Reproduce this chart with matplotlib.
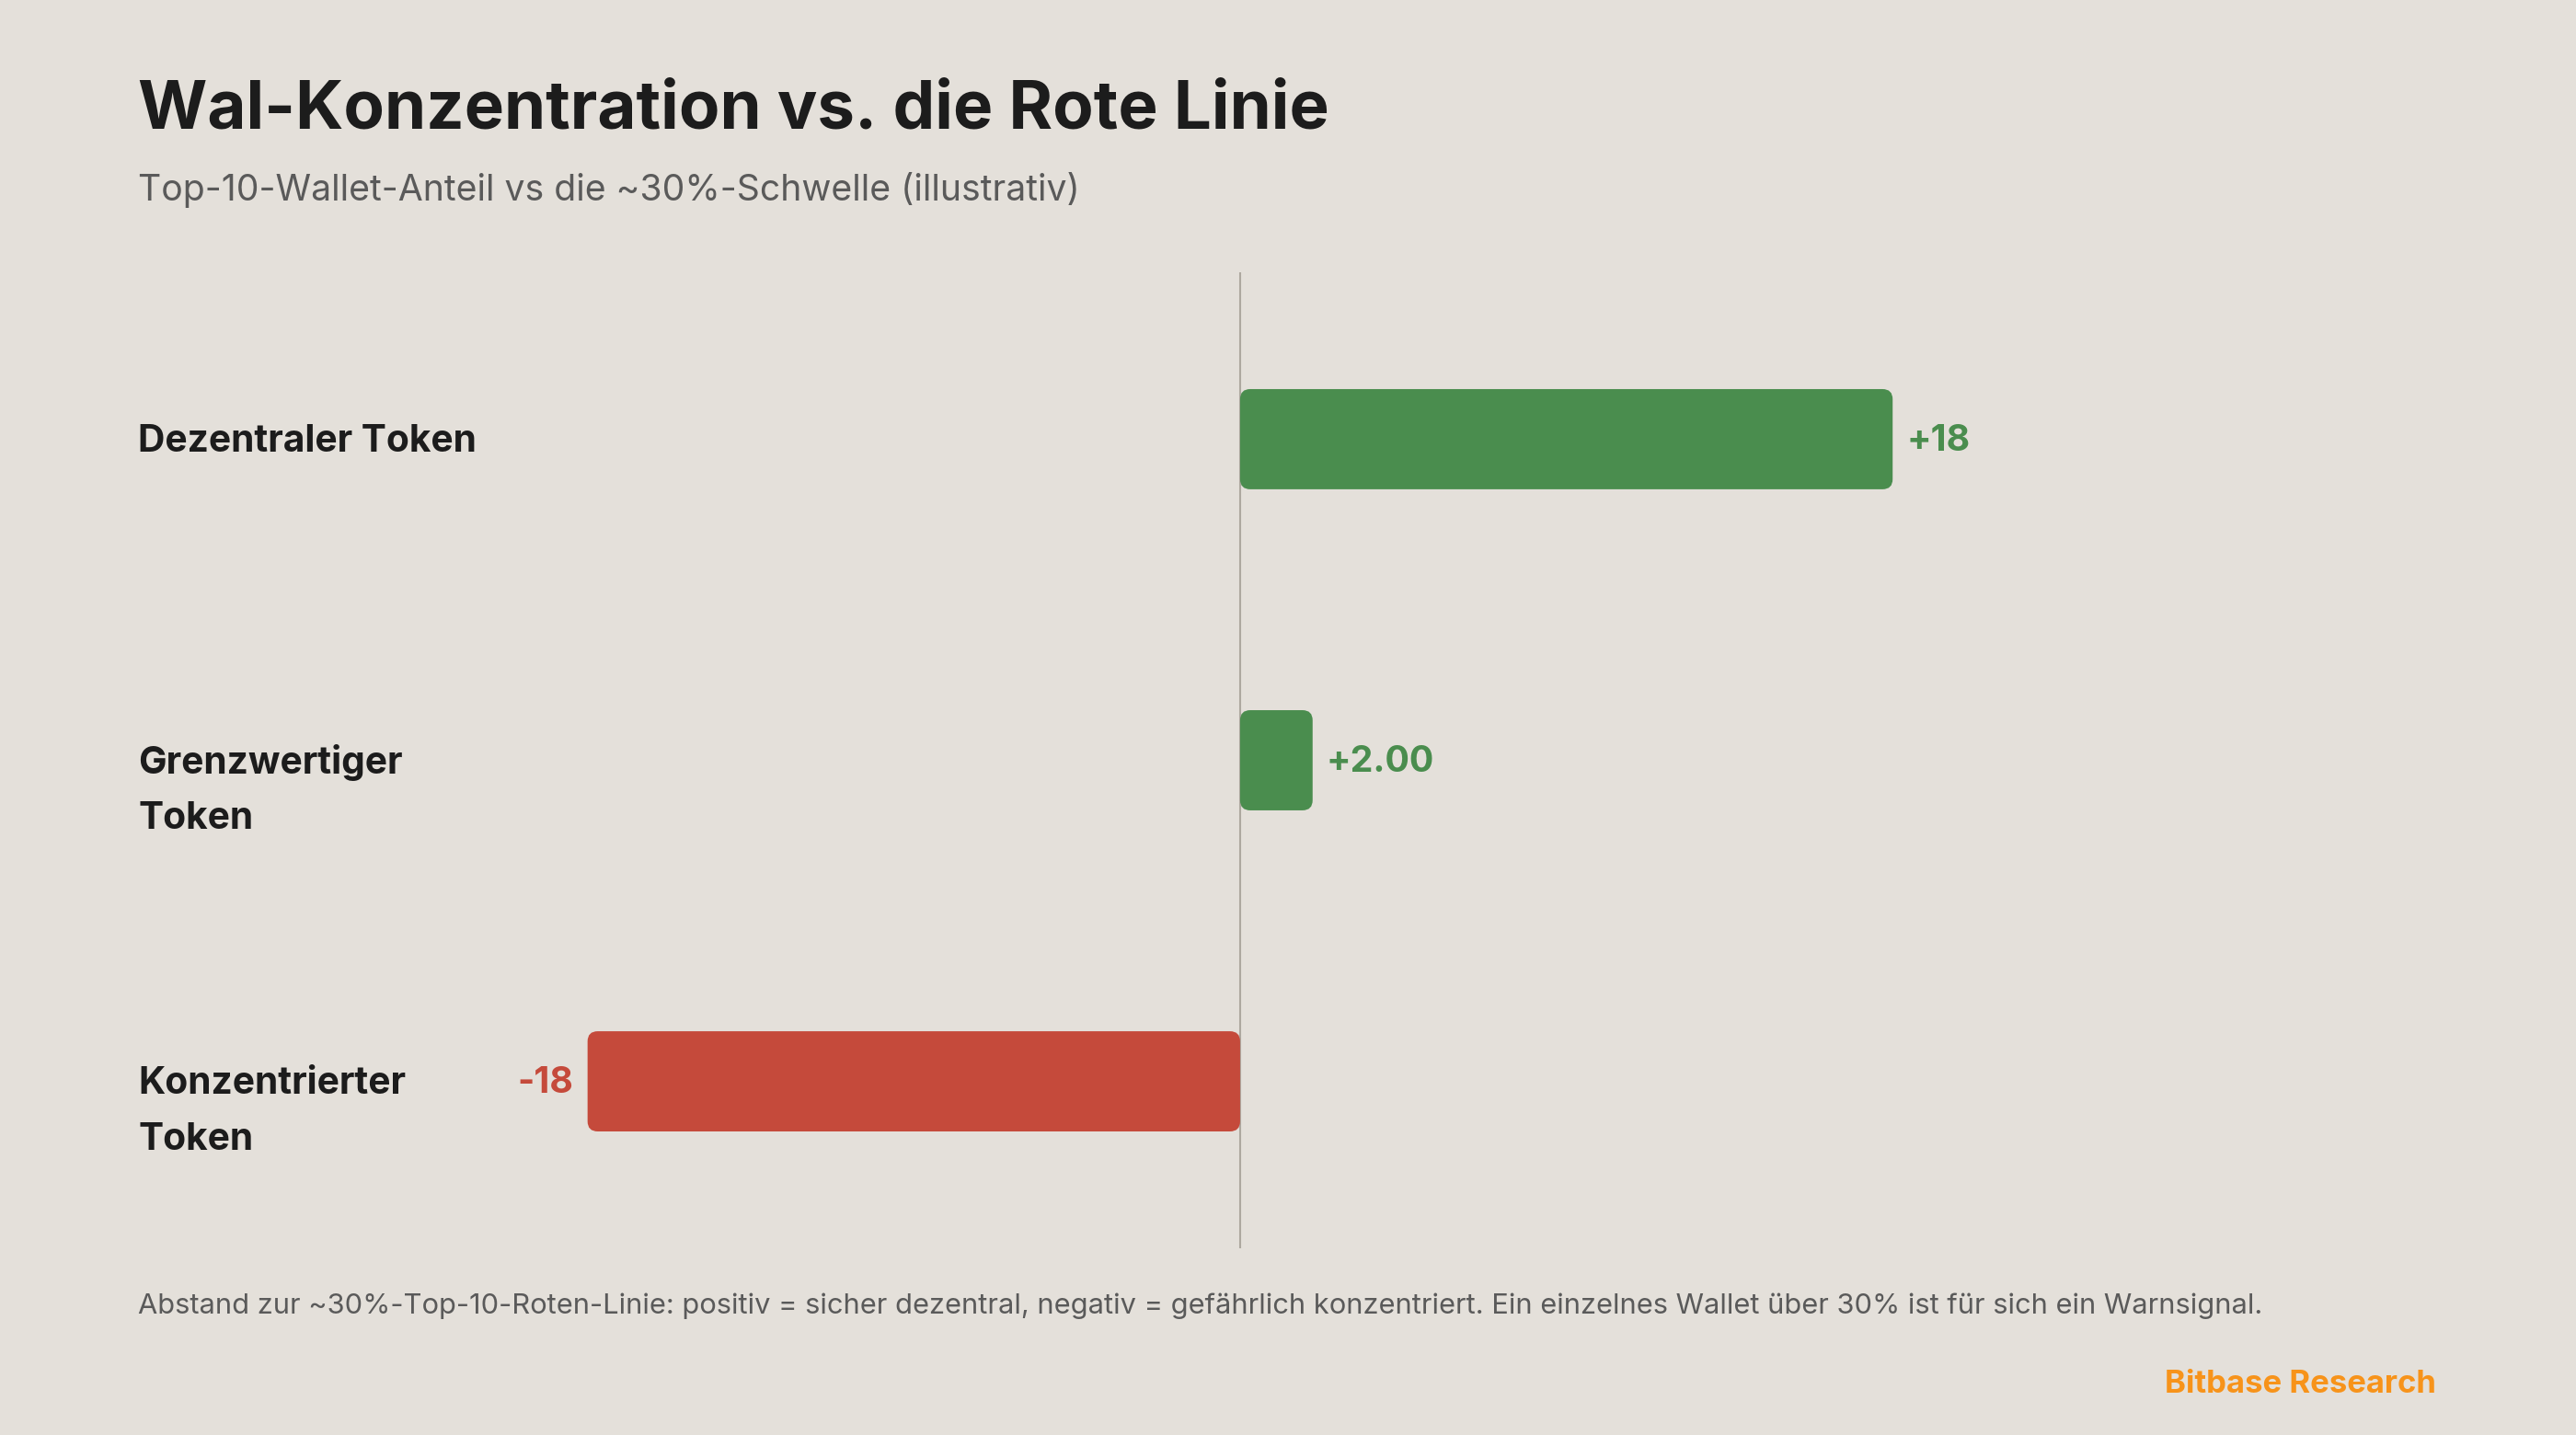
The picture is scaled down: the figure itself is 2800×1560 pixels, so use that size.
"""Whale concentration vs. the ~30% red line: diverging horizontal bars."""

import matplotlib
matplotlib.use("Agg")
import matplotlib.pyplot as plt
from matplotlib.patches import FancyBboxPatch
from matplotlib import transforms

# -- palette -------------------------------------------------------------------
BG = "#E4E0DA"
INK = "#1C1C1C"
SUBTLE = "#5A5A5A"
GREEN = "#4A8D4E"
RED = "#C54A3B"
ORANGE = "#F7931A"
ZERO = "#ADA89F"

# -- data ----------------------------------------------------------------------
categories = ["Dezentraler Token", "Grenzwertiger\nToken", "Konzentrierter\nToken"]
values = [18, 2, -18]
value_labels = ["+18", "+2.00", "-18"]

plt.rcParams["font.family"] = ["Inter", "DejaVu Sans"]

fig = plt.figure(figsize=(28, 15.6), dpi=100)
fig.patch.set_facecolor(BG)

ax = fig.add_axes([0.1718, 0.1301, 0.7318, 0.6802])
ax.set_facecolor(BG)
ax.set_xlim(-22, 30)
ax.set_ylim(2.52, -0.52)
for s in ax.spines.values():
    s.set_visible(False)
ax.set_xticks([]); ax.set_yticks([])

ax.axvline(0, color=ZERO, linewidth=1.5, zorder=1)

ypos = list(range(len(categories)))
colors = [GREEN if v >= 0 else RED for v in values]
bars = ax.barh(ypos, values, height=0.312, color=colors, zorder=2)

# swap plain rectangles for rounded ones (aspect-corrected corners)
bbox = ax.get_window_extent()
xpp = (ax.get_xlim()[1] - ax.get_xlim()[0]) / bbox.width
ypp = abs(ax.get_ylim()[1] - ax.get_ylim()[0]) / bbox.height
radius_px = 11
for b in bars:
    x0, y0, w, h = b.get_x(), b.get_y(), b.get_width(), b.get_height()
    if w < 0:
        x0, w = x0 + w, -w
    p = FancyBboxPatch((x0, y0), w, h,
                       boxstyle=f"round,pad=0,rounding_size={radius_px * xpp}",
                       mutation_aspect=ypp / xpp,
                       fc=b.get_facecolor(), ec="none", zorder=2)
    ax.add_patch(p)
    b.remove()

# value labels at bar ends
for y, v, lab, c in zip(ypos, values, value_labels, colors):
    off = 0.38 if v >= 0 else -0.4
    ax.annotate(lab, (v + off, y), xytext=(0, -1.5), textcoords="offset points",
                ha="left" if v >= 0 else "right", va="center",
                fontsize=28.3, fontweight="bold", color=c)

# category labels, first line aligned with bar centre, following lines below
trans = transforms.blended_transform_factory(fig.transFigure, ax.transData)
for y, cat in zip(ypos, categories):
    for i, line in enumerate(cat.split("\n")):
        ax.annotate(line, (0.0536, y), xycoords=trans,
                    xytext=(0, -1.5 - i * 44), textcoords="offset points",
                    ha="left", va="center",
                    fontsize=29.3, fontweight="bold", color=INK)

# -- header / footer -----------------------------------------------------------
fig.text(0.0536, 1 - 121 / 1560, "Wal-Konzentration vs. die Rote Linie",
         fontsize=52.3, fontweight="bold", color=INK, ha="left", va="center")
fig.text(0.0536, 1 - 206 / 1560,
         "Top-10-Wallet-Anteil vs die ~30%-Schwelle (illustrativ)",
         fontsize=28.2, color=SUBTLE, ha="left", va="center")
fig.text(0.0536, 1 - 1420 / 1560,
         "Abstand zur ~30%-Top-10-Roten-Linie: positiv = sicher dezentral, "
         "negativ = gefährlich konzentriert. Ein einzelnes Wallet über 30% ist "
         "für sich ein Warnsignal.",
         fontsize=22.2, color=SUBTLE, ha="left", va="center")
fig.text(2648 / 2800, 1 - 1505 / 1560, "Bitbase Research",
         fontsize=25, fontweight="bold", color=ORANGE, ha="right", va="center")

fig.savefig("out.png", dpi=100, facecolor=BG)
